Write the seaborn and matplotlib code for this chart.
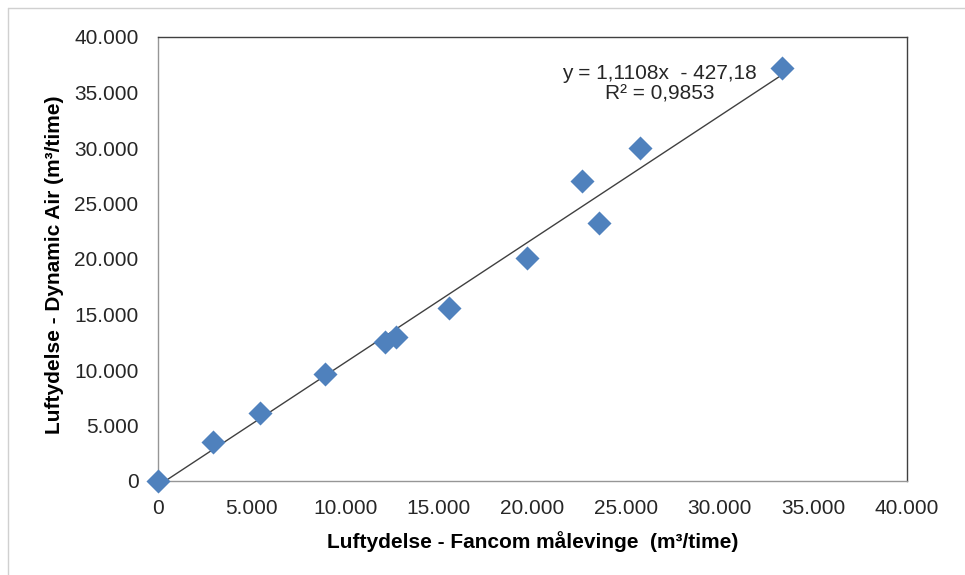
import matplotlib
matplotlib.use("Agg")
import matplotlib.pyplot as plt
import seaborn as sns
import numpy as np
import pandas as pd
from matplotlib.ticker import FuncFormatter, MultipleLocator
from matplotlib.lines import Line2D

# Data
fancom = [0, 2930, 5430, 8900, 12100, 12700, 15550, 19700, 22650, 23550, 25750, 33350]
dynamic_air = [0, 3500, 6150, 9650, 12550, 12950, 15600, 20050, 27000, 23200, 30000, 37200]
slope = 1.1108
intercept = -427.18
equation_text = "y = 1,1108x  - 427,18\nR² = 0,9853"
xlabel = "Luftydelse - Fancom målevinge  (m³/time)"
ylabel = "Luftydelse - Dynamic Air (m³/time)"

df = pd.DataFrame({"x": fancom, "y": dynamic_air})

sns.set_theme(style="white")
plt.rcParams['font.family'] = ['Liberation Sans', 'DejaVu Sans']

fig = plt.figure(figsize=(9.65, 5.75), dpi=100)
ax = fig.add_axes([158/965, 1-481/575, (907-158)/965, (481-37)/575])

# trendline
xs = np.array([0, max(fancom)])
ax.plot(xs, slope*xs + intercept, color="#404040", lw=1.0, zorder=2)

sns.scatterplot(data=df, x="x", y="y", marker="D", s=150, color="#4F81BD",
                edgecolor="#4F81BD", linewidth=0, ax=ax, zorder=3, clip_on=False)

ax.set_xlim(0, 40000)
ax.set_ylim(0, 40000)
ax.xaxis.set_major_locator(MultipleLocator(5000))
ax.yaxis.set_major_locator(MultipleLocator(5000))
fmt = FuncFormatter(lambda v, p: f"{int(v):,}".replace(",", "."))
ax.xaxis.set_major_formatter(fmt)
ax.yaxis.set_major_formatter(fmt)

for side in ["left", "bottom"]:
    ax.spines[side].set_color("#969696")
    ax.spines[side].set_linewidth(1.0)
for side in ["top", "right"]:
    ax.spines[side].set_color("#404040")
    ax.spines[side].set_linewidth(1.0)

ax.tick_params(axis="both", which="major", direction="out", length=5, width=1,
               color="#969696", labelsize=15, labelcolor="#262626")
ax.tick_params(axis="x", pad=8)
ax.tick_params(axis="y", pad=9)

ax.set_xlabel(xlabel, fontsize=15, fontweight="bold", color="#000000", labelpad=9)
ax.set_ylabel(ylabel, fontsize=15, fontweight="bold", color="#000000", labelpad=7)
ax.yaxis.label.set_y(0.5 - 6/444)

ax.text(26800, 35800, equation_text, ha="center", va="center", fontsize=15,
        color="#262626", linespacing=1.1)

# outer chart border (top/left visible)
fig.add_artist(Line2D([8/965, 1], [1-8/575, 1-8/575], color="#D0D0D0", lw=1))
fig.add_artist(Line2D([8/965, 8/965], [0, 1-8/575], color="#D0D0D0", lw=1))

fig.savefig("out.png", dpi=100)
